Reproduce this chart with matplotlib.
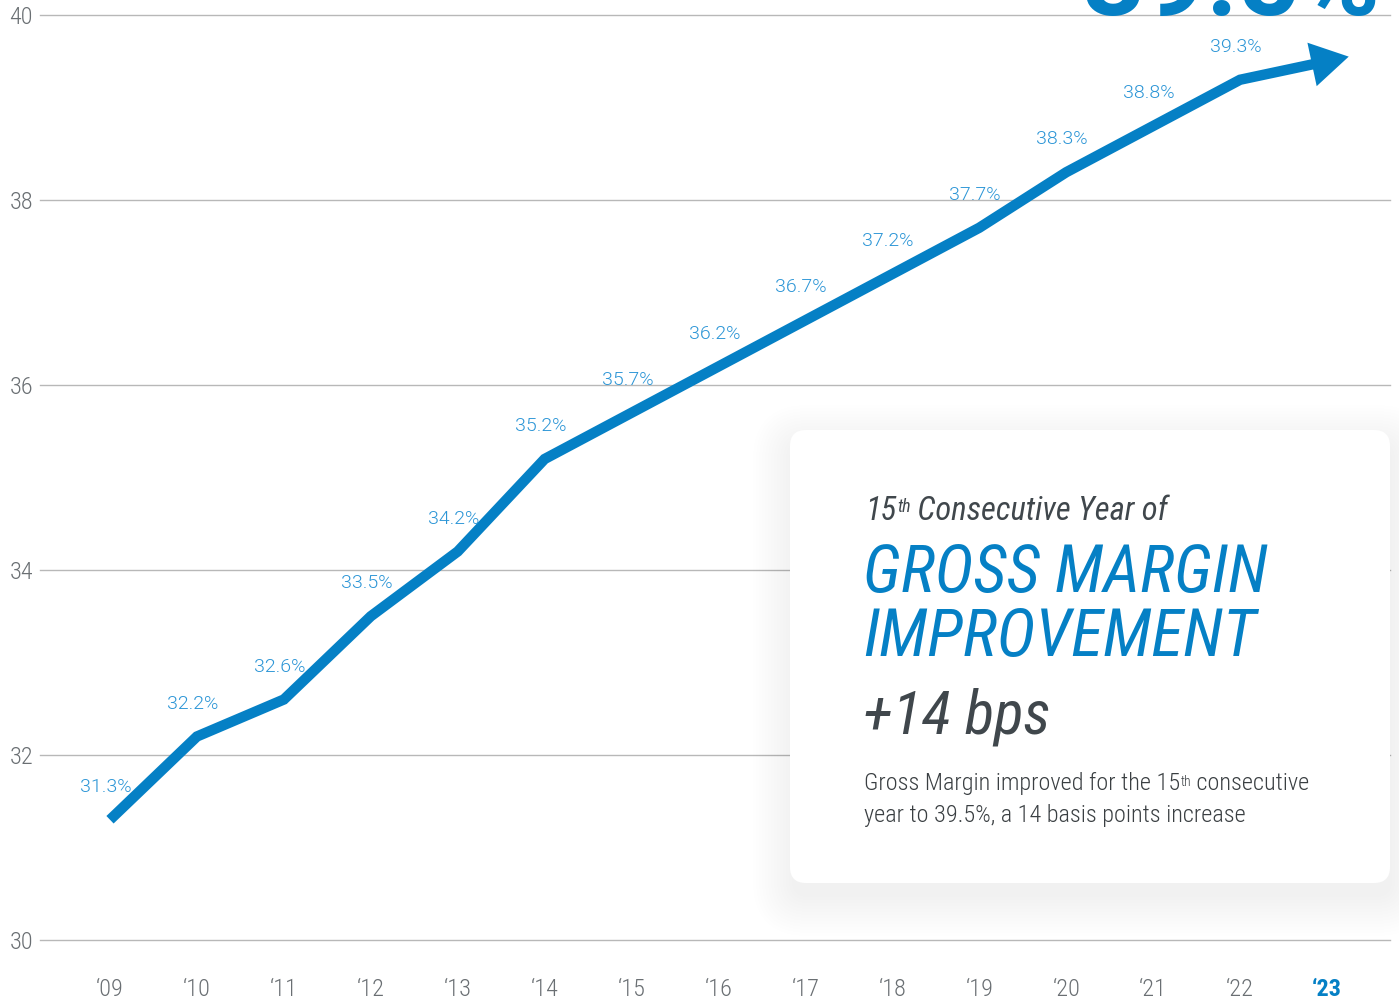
import os

import matplotlib
matplotlib.use("Agg")
import matplotlib.pyplot as plt
from matplotlib import font_manager
from matplotlib.font_manager import FontProperties
from matplotlib.patches import FancyBboxPatch, ArrowStyle

# ---- data ----
years = [2009, 2010, 2011, 2012, 2013, 2014, 2015, 2016,
         2017, 2018, 2019, 2020, 2021, 2022, 2023]
margin = [31.3, 32.2, 32.6, 33.5, 34.2, 35.2, 35.7, 36.2,
          36.7, 37.2, 37.7, 38.3, 38.8, 39.3, 39.5]
point_labels = ["31.3%", "32.2%", "32.6%", "33.5%", "34.2%", "35.2%", "35.7%",
                "36.2%", "36.7%", "37.2%", "37.7%", "38.3%", "38.8%", "39.3%"]
year_labels = ["\u201809", "\u201810", "\u201811", "\u201812", "\u201813",
               "\u201814", "\u201815", "\u201816", "\u201817", "\u201818",
               "\u201819", "\u201820", "\u201821", "\u201822", "\u201823"]
y_ticks = [30, 32, 34, 36, 38, 40]
big_value = "39.5%"

BLUE = "#0580c5"
LABEL_BLUE = "#2b95d6"
GREY_TXT = "#6a6f73"
DARK = "#40474c"
BODY = "#3a3f42"
GRID = "#b8b8b8"


def find_file(*names):
    for n in names:
        for f in font_manager.fontManager.ttflist:
            if os.path.basename(f.fname) == n:
                return f.fname
    return None


def fp(fname, size, **fallback):
    if fname:
        return FontProperties(fname=fname, size=size)
    return FontProperties(size=size, **fallback)


COND = find_file("RobotoCondensed-Light.ttf", "RobotoCondensed-Regular.ttf",
                 "NotoSans-CondensedLight.ttf", "NotoSans-Condensed.ttf",
                 "LiberationSansNarrow-Regular.ttf", "DejaVuSansCondensed.ttf")
COND_IT = find_file("RobotoCondensed-Italic.ttf", "RobotoCondensed-MediumItalic.ttf",
                    "NotoSans-CondensedItalic.ttf", "LiberationSansNarrow-Italic.ttf",
                    "DejaVuSansCondensed-Oblique.ttf")
COND_BOLD = find_file("RobotoCondensed-Bold.ttf", "NotoSans-CondensedBold.ttf",
                      "LiberationSansNarrow-Bold.ttf", "DejaVuSansCondensed-Bold.ttf")
LIGHT = find_file("Roboto-Light.ttf", "Lato-Light.ttf", "Inter-Light.ttf")
BOLD = find_file("Roboto-Bold.ttf", "Lato-Bold.ttf")

fig = plt.figure(figsize=(13.99, 10.02), dpi=100)
W, H = 1399, 1002
ax = fig.add_axes([40 / W, 62 / H, 1350 / W, 925 / H])

step = (1240 - 110) / 13
ax.set_xlim(years[0] - 70 / step, years[-1] + 63 / step)
ax.set_ylim(30, 40)

for s in ax.spines.values():
    s.set_visible(False)
ax.set_yticks(y_ticks)
ax.set_yticklabels([str(t) for t in y_ticks], fontproperties=fp(COND, 17.5, family="Roboto"),
                   color=GREY_TXT)
ax.set_xticks(years)
ax.set_xticklabels(year_labels, fontproperties=fp(COND, 17.5, family="Roboto"), color=GREY_TXT)
ax.tick_params(axis="y", length=0, pad=5)
ax.tick_params(axis="x", length=0, pad=27)
last = ax.get_xticklabels()[-1]
last.set_fontproperties(fp(COND_BOLD, 17.5, family="Roboto", weight="bold"))
last.set_color(BLUE)
ax.yaxis.grid(True, color=GRID, lw=1.0)
for g in ax.get_ygridlines():
    g.set_clip_on(False)
ax.set_axisbelow(True)

# main line + arrow head
ax.plot(years, margin, color=BLUE, lw=7.5, solid_capstyle="butt",
        solid_joinstyle="miter", zorder=3)
tip = (years[-1] + 0.25, margin[-1] + 0.25 * (margin[-1] - margin[-2]))
ax.annotate("", xy=tip, xytext=(years[-2], margin[-2]),
            arrowprops=dict(arrowstyle=ArrowStyle("-|>", head_length=27, head_width=16),
                            mutation_scale=1, color=BLUE, lw=0, shrinkA=0, shrinkB=0),
            zorder=4, annotation_clip=False)

for x, y, lab in zip(years, margin, point_labels):
    ax.annotate(lab, (x, y), xytext=(-3, 20), textcoords="offset points",
                ha="center", va="baseline", color=LABEL_BLUE,
                fontproperties=fp(LIGHT, 14, family="Roboto"), zorder=5)

# overlay in pixel coordinates for the card and headline figure
ov = fig.add_axes([0, 0, 1, 1], zorder=5)
ov.set_xlim(0, W)
ov.set_ylim(H, 0)
ov.axis("off")
ov.patch.set_alpha(0)

ov.text(1380, 15, big_value, ha="right", va="baseline", color=BLUE,
        fontproperties=fp(BOLD, 78, family="Roboto", weight="bold"), clip_on=False)

cx, cy, cw, ch = 790, 430, 600, 453
for i in range(14):
    s = 3 * i
    ov.add_patch(FancyBboxPatch((cx - s + 2, cy - s + 14), cw + 2 * s, ch + 2 * s,
                                boxstyle=f"round,pad=0,rounding_size={16 + s}",
                                fc="black", ec="none", alpha=0.0055))
ov.add_patch(FancyBboxPatch((cx, cy), cw, ch, boxstyle="round,pad=0,rounding_size=16",
                            fc="white", ec="none"))

head = fp(COND_IT, 23.5, family="Roboto", style="italic")
t1 = ov.text(865, 520, "15", color=DARK, va="baseline", fontproperties=head)
t2 = ov.annotate("th", xy=(1, 1), xycoords=t1, xytext=(0.5, -2), textcoords="offset points",
                 ha="left", va="top", color=DARK,
                 fontproperties=fp(COND_IT, 13, family="Roboto", style="italic"))
ov.annotate(" Consecutive Year of", xy=(1, 0), xycoords=(t2, t1), ha="left", va="bottom",
            color=DARK, fontproperties=head)

big = fp(COND_IT, 47.5, family="Roboto", style="italic")
ov.text(863, 592, "GROSS MARGIN", color=BLUE, va="baseline", fontproperties=big)
ov.text(863, 656, "IMPROVEMENT", color=BLUE, va="baseline", fontproperties=big)
ov.text(863, 733, "+14 bps", color=DARK, va="baseline",
        fontproperties=fp(COND_IT, 44, family="Roboto", style="italic"))

body = fp(COND, 17.5, family="Roboto")
b1 = ov.text(864, 790, "Gross Margin improved for the 15", color=BODY,
             va="baseline", fontproperties=body)
b2 = ov.annotate("th", xy=(1, 1), xycoords=b1, xytext=(0.5, -2), textcoords="offset points",
                 ha="left", va="top", color=BODY, fontproperties=fp(COND, 10, family="Roboto"))
ov.annotate(" consecutive", xy=(1, 0), xycoords=(b2, b1), ha="left", va="bottom",
            color=BODY, fontproperties=body)
ov.text(864, 822, "year to 39.5%, a 14 basis points increase", color=BODY,
        va="baseline", fontproperties=body)

fig.savefig("out.png", dpi=100)
